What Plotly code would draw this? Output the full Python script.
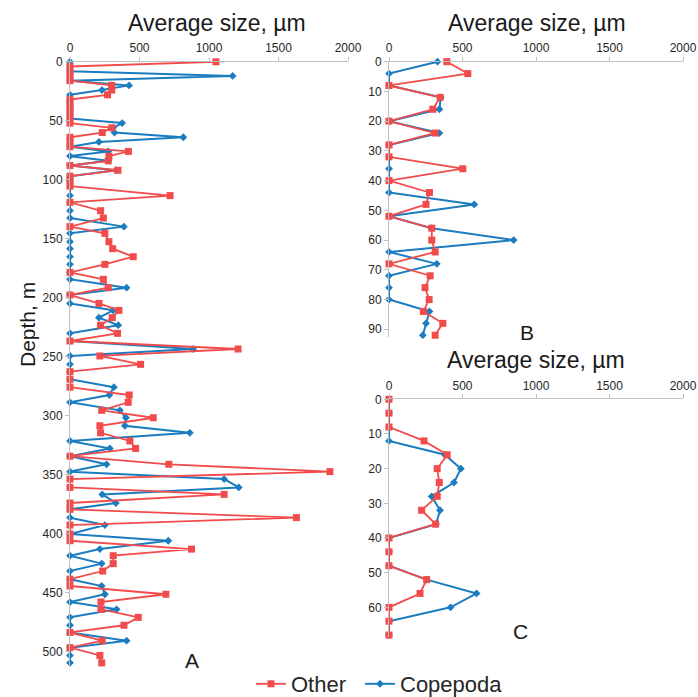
import plotly.graph_objects as go

# ---------------- data ----------------
# Panel A
A_depth = [0, 4, 8, 12, 16, 20, 24, 28, 32, 36, 40, 44, 48, 52, 56, 60, 64, 68, 72, 76,
           80, 84, 88, 92, 97, 101, 105.5, 113.5, 119.2, 126.3, 132.5, 139.8, 145.5, 152.6,
           158.5, 165.3, 171.8, 178.6, 184.5, 191.6, 197.8, 204.9, 210.8, 217.0, 223.4,
           230.3, 236.8, 243.6, 249.5, 256.6, 262.8, 269.3, 276.0, 282.6, 288.8, 295.6,
           301.9, 308.7, 314.7, 321.6, 327.9, 334.5, 341.4, 347.6, 353.9, 361.0, 366.9,
           374.2, 379.6, 386.6, 392.9, 400.5, 406.2, 413.3, 418.9, 425.6, 431.9, 438.8,
           444.6, 451.6, 458.2, 464.4, 471.2, 477.9, 484.0, 491.0, 496.9, 503.5, 509.8]
A_other = [1050, 0, 0, 0, 0, 300, 300, 270, 0, 0, 0, 0, 0, 0, 300, 232, 0, 0, 0, 420,
           280, 275, 0, 345, 0, 0, 0, 720, 0, 220, 240, 0, 251, 280,
           307, 455, 251, 0, 240, 275, 0, 208, 352, 304, 220,
           342, 0, 1209, 215, 508, 0, 0, 0, 426, 419, 228,
           599, 215, 220, 431, 472, 0, 711, 1870, 0, 0, 1109,
           0, 0, 1629, 0, 0, 0, 874, 311, 311, 235, 0,
           0, 690, 223, 223, 491, 388, 0, 232, 0, 215, 228]
A_cope = [0, 0, 0, 1170, 0, 425, 230, 0, 0, 0, 0, 0, 0, 375, 310, 320, 815, 208, 0, 275,
          0, 275, 0, 330, 0, 0, 0, 0, 0, 0, 0, 388, 0, 0,
          0, 0, 0, 0, 0, 407, 0, 0, 311, 208, 347,
          0, 0, 886, 0, 0, 0, 0, 316, 283, 0, 359,
          402, 395, 862, 0, 287, 0, 263, 0, 1109, 1214, 232,
          330, 0, 0, 251, 0, 707, 215, 0, 228, 0, 0,
          228, 251, 0, 335, 0, 0, 0, 407, 0, 0, 0]

# Panel B
B_depth = [0, 4, 8, 12, 16, 20, 24, 28, 32, 36, 40, 44, 48, 52, 56, 60, 64, 68, 72, 76, 80, 84, 88, 92]
B_other = [393, 536, 0, 348, 298, 0, 314, 0, 0, 502, 0, 275, 252, 0, 291, 291, 314, 0, 280, 245, 273, 234, 366, 314]
B_cope = [330, 0, 0, 352, 343, 0, 343, 0, 0, 0, 0, 0, 580, 0, 290, 848, 0, 325, 0, 0, 0, 275, 252, 230]

# Panel C
C_depth = [0, 4, 8, 12, 16, 20, 24, 28, 32, 36, 40, 44, 48, 52, 56, 60, 64, 68]
C_other = [0, 0, 0, 238, 396, 328, 342, 328, 222, 317, 0, 0, 0, 256, 211, 0, 0, 0]
C_cope = [0, 0, 0, 0, 380, 489, 442, 290, 347, 320, 0, 0, 0, 256, 596, 419, 0, 0]

x_ticks = [0, 500, 1000, 1500, 2000]
title_x = "Average size, µm"
title_y = "Depth, m"
panel_labels = ["A", "B", "C"]
series_names = ["Other", "Copepoda"]

# ---------------- style ----------------
W, H = 698, 697
RED = "#F24B4B"
BLUE = "#1B7CC0"
AX = "#BFBFBF"
FONT = "Liberation Sans, Arial, sans-serif"
TXT = "#262626"


def fx(px):
    return px / W


def fy(py):
    return 1 - py / H


fig = go.Figure()

panels = [
    ("x", "y", A_depth, A_other, A_cope, True),
    ("x2", "y2", B_depth, B_other, B_cope, False),
    ("x3", "y3", C_depth, C_other, C_cope, False),
]
for xa, ya, dep, oth, cop, show in panels:
    fig.add_trace(go.Scatter(
        x=cop, y=dep, xaxis=xa, yaxis=ya, mode="lines+markers", name=series_names[1],
        legend="legend2", legendgroup="cope", showlegend=show, cliponaxis=False,
        line=dict(color=BLUE, width=2),
        marker=dict(symbol="diamond", size=6, color=BLUE)))
    fig.add_trace(go.Scatter(
        x=oth, y=dep, xaxis=xa, yaxis=ya, mode="lines+markers", name=series_names[0],
        legend="legend", legendgroup="other", showlegend=show, cliponaxis=False,
        line=dict(color=RED, width=1.8),
        marker=dict(symbol="square", size=7, color=RED)))


def xaxis(domain, anchor):
    return dict(domain=domain, anchor=anchor, side="top", range=[0, 2000],
                tickvals=x_ticks, showline=True, linecolor=AX, linewidth=1,
                ticks="outside", ticklen=4, tickcolor=AX, showgrid=False, zeroline=False,
                automargin=False,
                tickfont=dict(size=12, color=TXT, family=FONT))


def yaxis(domain, anchor, rng, dtick):
    return dict(domain=domain, anchor=anchor, range=rng, dtick=dtick, tick0=0,
                showline=True, linecolor=AX, linewidth=1, ticks="outside", ticklen=4,
                tickcolor=AX, showgrid=False, zeroline=False, automargin=False,
                tickfont=dict(size=12, color=TXT, family=FONT))


def legend_at(px):
    return dict(orientation="h", x=fx(px), xanchor="left",
                y=fy(684), yanchor="middle", bgcolor="rgba(0,0,0,0)",
                font=dict(size=22, color=TXT, family=FONT))


fig.update_layout(
    template="none",
    width=W, height=H, autosize=False,
    margin=dict(l=0, r=0, t=0, b=0, pad=0, autoexpand=False),
    paper_bgcolor="white", plot_bgcolor="white",
    font=dict(family=FONT, color=TXT),
    xaxis=xaxis([fx(70), fx(348)], "y"),
    yaxis=yaxis([fy(667), fy(61.8)], "x", [513.3, 0], 50),
    xaxis2=xaxis([fx(389), fx(683)], "y2"),
    yaxis2=yaxis([fy(337), fy(61.7)], "x2", [92.6, 0], 10),
    xaxis3=xaxis([fx(389), fx(683)], "y3"),
    yaxis3=yaxis([fy(636.8), fy(399.3)], "x3", [68.5, 0], 10),
    legend=legend_at(251),
    legend2=legend_at(360),
    showlegend=True,
)

ann = []
for cx, cy in [(216.5, 23), (536.5, 23), (535.5, 360)]:
    ann.append(dict(text=title_x, x=fx(cx), y=fy(cy), xref="paper", yref="paper",
                    showarrow=False, xanchor="center", yanchor="middle",
                    font=dict(size=23, color="#1a1a1a", family=FONT)))
ann.append(dict(text=title_y, x=fx(27), y=fy(325), xref="paper", yref="paper",
                showarrow=False, xanchor="center", yanchor="middle", textangle=-90,
                font=dict(size=21, color="#1a1a1a", family=FONT)))
for lab, (cx, cy) in zip(panel_labels, [(192, 660), (527, 332), (520, 631)]):
    ann.append(dict(text=lab, x=fx(cx), y=fy(cy), xref="paper", yref="paper",
                    showarrow=False, xanchor="center", yanchor="middle",
                    font=dict(size=21, color="#1a1a1a", family=FONT)))
fig.update_layout(annotations=ann)

fig.write_html(
    "out.html",
    config={"displayModeBar": False},
    post_script="document.body.style.margin='0px';document.body.style.overflow='hidden';",
)
